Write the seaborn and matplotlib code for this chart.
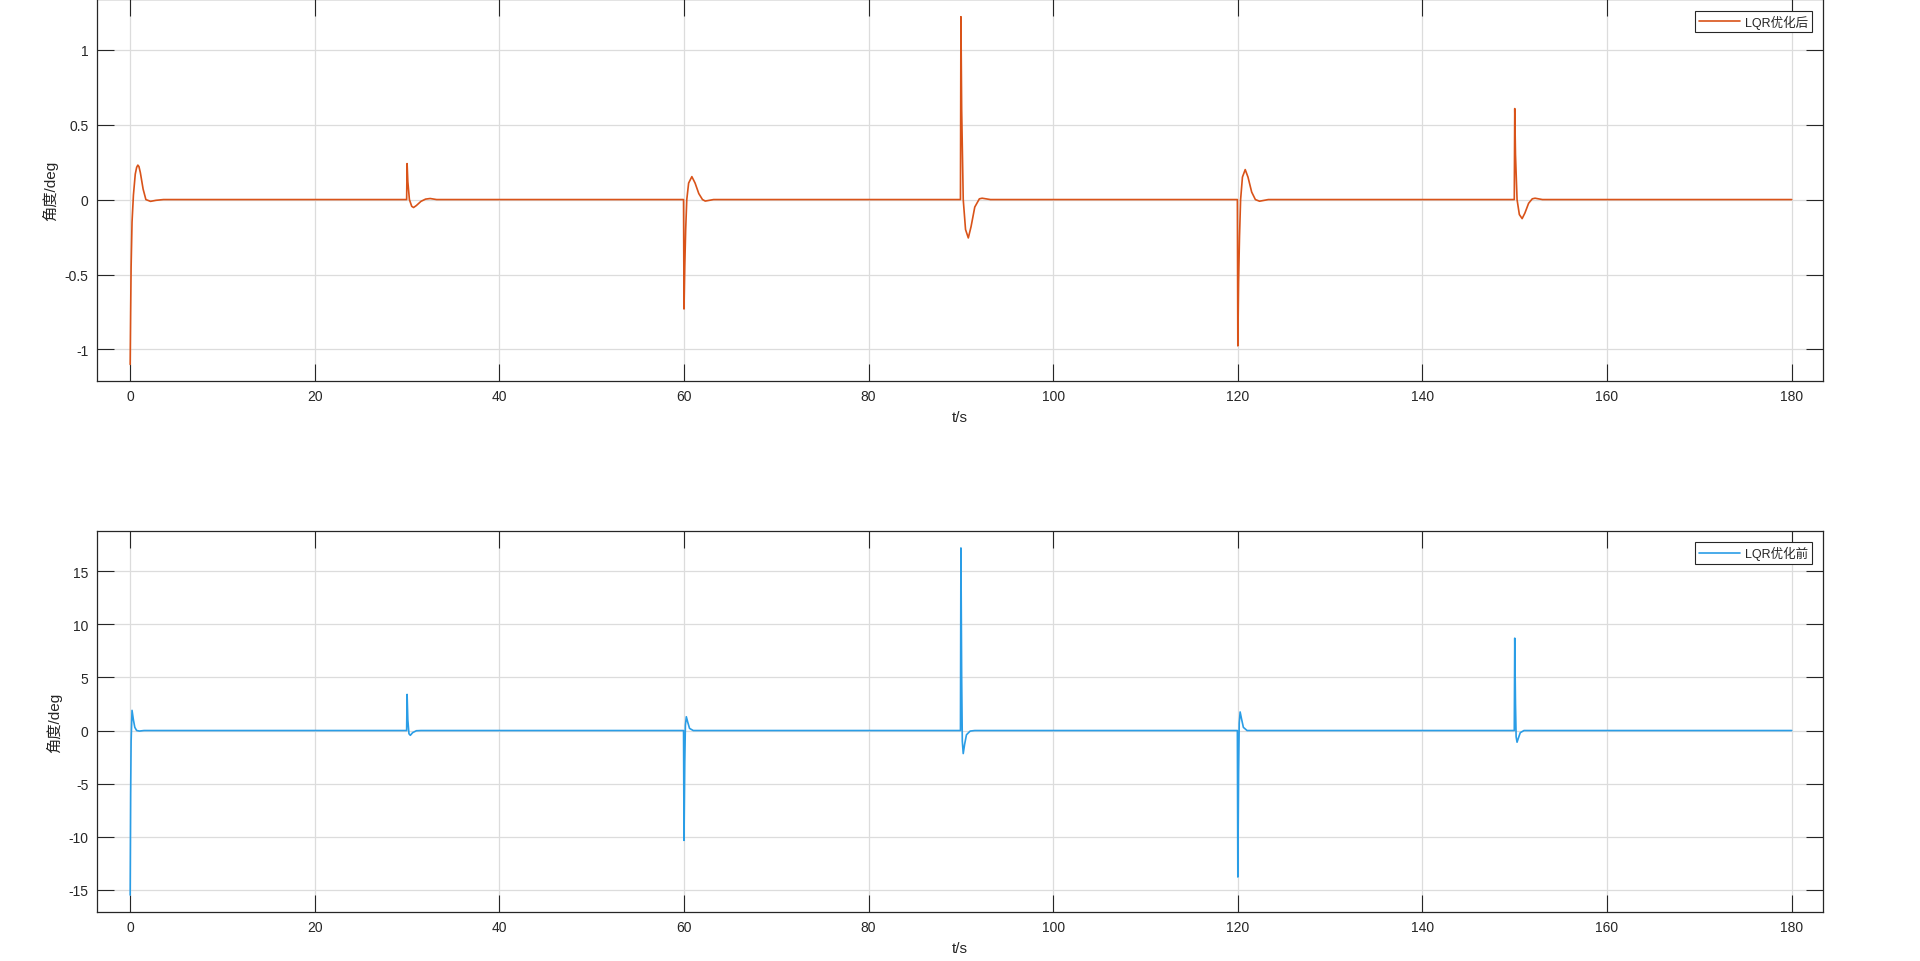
import matplotlib
matplotlib.use('Agg')
import matplotlib.pyplot as plt
import seaborn as sns

# LQR after optimisation (top panel)
after_t = [0, 0.05, 0.1, 0.2, 0.35, 0.55, 0.7, 0.83, 0.95, 1.1, 1.4, 1.7, 2.2, 2.8, 3.6,
           29.95, 30.0, 30.08, 30.25, 30.5, 30.7, 31.0, 31.5, 32.0, 32.5, 33.2,
           59.95, 60.0, 60.08, 60.18, 60.3, 60.5, 60.85, 61.2, 61.6, 62.0, 62.3, 63.2,
           89.95, 90.0, 90.08, 90.25, 90.5, 90.8, 91.1, 91.5, 92.0, 92.3, 93.2,
           119.95, 120.0, 120.08, 120.18, 120.3, 120.5, 120.8, 121.1, 121.5, 121.9, 122.35, 123.3,
           149.95, 150.0, 150.08, 150.25, 150.5, 150.8, 151.1, 151.5, 151.9, 152.2, 153.0,
           180]
after_y = [-1.10, -0.75, -0.45, -0.15, 0.03, 0.17, 0.215, 0.23, 0.22, 0.18, 0.07, 0.0, -0.012, -0.005, 0.0,
           0.0, 0.24, 0.12, 0.0, -0.045, -0.053, -0.04, -0.012, 0.003, 0.007, 0.0,
           0.0, -0.73, -0.45, -0.2, 0.0, 0.11, 0.153, 0.11, 0.04, 0.0, -0.01, 0.0,
           0.0, 1.22, 0.6, 0.0, -0.2, -0.256, -0.18, -0.05, 0.005, 0.009, 0.0,
           0.0, -0.976, -0.55, -0.25, 0.0, 0.15, 0.2, 0.15, 0.05, 0.0, -0.011, 0.0,
           0.0, 0.607, 0.3, 0.0, -0.1, -0.127, -0.09, -0.025, 0.005, 0.009, 0.0,
           0.0]

# LQR before optimisation (bottom panel)
before_t = [0, 0.05, 0.1, 0.2, 0.35, 0.5, 0.7, 1.0, 1.5,
            29.95, 30.0, 30.08, 30.2, 30.35, 30.6, 31.0, 31.5,
            59.95, 60.0, 60.08, 60.15, 60.25, 60.4, 60.6, 61.0,
            89.95, 90.0, 90.08, 90.15, 90.25, 90.4, 90.6, 91.0, 91.5,
            119.95, 120.0, 120.08, 120.15, 120.25, 120.4, 120.6, 121.0,
            149.95, 150.0, 150.08, 150.15, 150.25, 150.4, 150.6, 151.0,
            180]
before_y = [-15.5, -6.0, -1.0, 1.9, 1.0, 0.3, 0.0, -0.05, 0.0,
            0.0, 3.4, 1.0, -0.3, -0.45, -0.2, -0.02, 0.0,
            0.0, -10.35, -3.0, 0.5, 1.3, 0.8, 0.2, 0.0,
            0.0, 17.2, 5.0, -1.0, -2.17, -1.3, -0.4, -0.05, 0.0,
            0.0, -13.8, -4.0, 0.7, 1.75, 1.1, 0.3, 0.0,
            0.0, 8.7, 2.5, -0.6, -1.1, -0.7, -0.2, 0.0,
            0.0]

x_ticks = [0, 20, 40, 60, 80, 100, 120, 140, 160, 180]
after_yticks = [-1, -0.5, 0, 0.5, 1]
after_ylabels = ['-1', '-0.5', '0', '0.5', '1']
before_yticks = [-15, -10, -5, 0, 5, 10, 15]

sns.set_style('white')
plt.rcParams['font.family'] = ['Liberation Sans', 'Noto Sans CJK SC', 'DejaVu Sans']
plt.rcParams['axes.unicode_minus'] = False

fig = plt.figure(figsize=(19.2, 9.62), dpi=100)
ax1 = fig.add_axes([0.0505, 0.6030, 0.899, 0.3965])
ax2 = fig.add_axes([0.0505, 0.0509, 0.899, 0.3961])

text_col = '#262626'


def style_axis(ax, ylim, yticks, ylabels):
    ax.set_xlim(-3.6, 183.4)
    ax.set_ylim(*ylim)
    ax.set_xticks(x_ticks)
    ax.set_xticklabels([str(t) for t in x_ticks])
    ax.set_yticks(yticks)
    ax.set_yticklabels(ylabels)
    ax.grid(True, color='#dcdcdc', linewidth=0.9)
    ax.set_axisbelow(True)
    for s in ax.spines.values():
        s.set_color(text_col)
        s.set_linewidth(0.9)
        s.set_visible(True)
    ax.tick_params(direction='in', length=12, width=0.8, color=text_col,
                   top=True, right=True, bottom=True, left=True,
                   labelsize=10, labelcolor=text_col, pad=6)
    ax.set_xlabel('t/s', fontsize=11, color=text_col, labelpad=5)
    ax.set_ylabel('角度/deg', fontsize=11, color=text_col, labelpad=5)
    leg = ax.legend(loc='upper right', fontsize=9, frameon=True, fancybox=False,
                    edgecolor=text_col, framealpha=1, handlelength=3.3,
                    borderaxespad=0.9, borderpad=0.3, handletextpad=0.4)
    leg.get_frame().set_linewidth(0.8)


sns.lineplot(x=after_t, y=after_y, ax=ax1, color='#D95319', linewidth=1.2,
             estimator=None, sort=False, label='LQR优化后')
style_axis(ax1, (-1.21, 1.335), after_yticks, after_ylabels)

sns.lineplot(x=before_t, y=before_y, ax=ax2, color='#2A9DE6', linewidth=1.2,
             estimator=None, sort=False, label='LQR优化前')
style_axis(ax2, (-17.1, 18.8), before_yticks, [str(v) for v in before_yticks])

fig.savefig('out.png', dpi=100, facecolor='white')
